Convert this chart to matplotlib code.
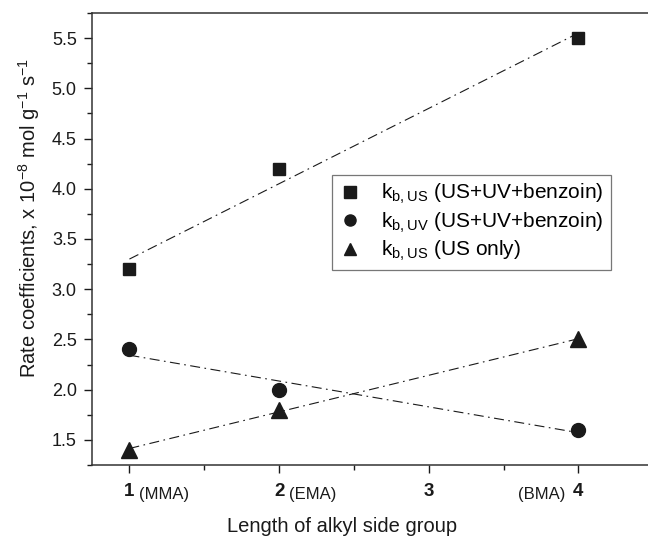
import numpy as np
import matplotlib
matplotlib.use('Agg')
import matplotlib.pyplot as plt
from matplotlib.ticker import MultipleLocator
import matplotlib.transforms as mtransforms

plt.rcParams['font.family'] = ['Liberation Sans', 'DejaVu Sans']
plt.rcParams['mathtext.default'] = 'regular'

# data
x_len      = [1, 2, 4]
kb_us_uvb  = [3.2, 4.2, 5.5]
kb_uv_uvb  = [2.4, 2.0, 1.6]
kb_us_only = [1.4, 1.8, 2.5]
monomers   = {1: '(MMA)', 2: '(EMA)', 4: '(BMA)'}

INK = '#1a1a1a'

fig = plt.figure(figsize=(6.48, 5.36), dpi=100)
ax = fig.add_axes([0.142, 0.1325, 0.866, 0.8433])

series = [
    (kb_us_uvb,  's', 9,  r'k$_{b,US}$ (US+UV+benzoin)'),
    (kb_uv_uvb,  'o', 10, r'k$_{b,UV}$ (US+UV+benzoin)'),
    (kb_us_only, '^', 11, r'k$_{b,US}$ (US only)'),
]

xs = np.array(x_len, dtype=float)
for ys, mk, ms, lab in series:
    ax.plot(xs, ys, linestyle='none', marker=mk, markersize=ms,
            color=INK, label=lab, zorder=3)
    # linear fit, dash-dot
    slope, icpt = np.polyfit(xs, ys, 1)
    xf = np.array([xs.min(), xs.max()])
    ax.plot(xf, slope * xf + icpt, color=INK, lw=0.8,
            dashes=(9, 4, 1.5, 4), zorder=2)

ax.set_xlim(0.75, 4.5)
ax.set_ylim(1.25, 5.75)

ax.xaxis.set_minor_locator(MultipleLocator(0.5))
ax.yaxis.set_minor_locator(MultipleLocator(0.25))
ax.set_xticks([1, 2, 3, 4])
ax.set_xticklabels(['1', '2', '3', '4'], fontweight='bold')
yt = np.arange(1.5, 5.51, 0.5)
ax.set_yticks(yt)
ax.set_yticklabels([f'{v:.1f}' for v in yt])

ax.tick_params(axis='both', which='major', direction='out', length=6,
               width=1.0, labelsize=13, colors=INK, pad=5)
ax.tick_params(axis='both', which='minor', direction='out', length=3.5,
               width=1.0, colors=INK)
ax.tick_params(axis='x', which='major', labelsize=13.5, pad=7)

for side in ['left', 'bottom', 'top', 'right']:
    ax.spines[side].set_linewidth(1.1)
    ax.spines[side].set_color('#333333')

# monomer names beside the tick numbers
trans = mtransforms.blended_transform_factory(ax.transData, ax.transAxes)
for xv, name in monomers.items():
    if xv == 4:
        ax.annotate(name, (xv, 0), xycoords=trans, xytext=(-9, -16),
                    textcoords='offset points', ha='right', va='top',
                    fontsize=12, color=INK)
    else:
        ax.annotate(name, (xv, 0), xycoords=trans, xytext=(7, -16),
                    textcoords='offset points', ha='left', va='top',
                    fontsize=12, color=INK)

ax.set_xlabel('Length of alkyl side group', fontsize=14.5, color=INK,
              labelpad=12)
ax.xaxis.label.set_x(0.446)
ax.set_ylabel(r'Rate coefficients, x 10$^{-8}$ mol g$^{-1}$ s$^{-1}$',
              fontsize=14.5, color=INK, labelpad=7)
ax.yaxis.label.set_y(0.546)

leg = ax.legend(loc='upper left', bbox_to_anchor=(0.428, 0.6416),
                borderaxespad=0, fontsize=15, frameon=True, fancybox=False,
                edgecolor='#555555', labelspacing=0.2, handlelength=1.0,
                handletextpad=1.0, borderpad=0.35)
leg.get_frame().set_linewidth(0.9)
for h in leg.legend_handles:
    h.set_markersize(8)

fig.savefig('out.png', dpi=100, facecolor='white')
